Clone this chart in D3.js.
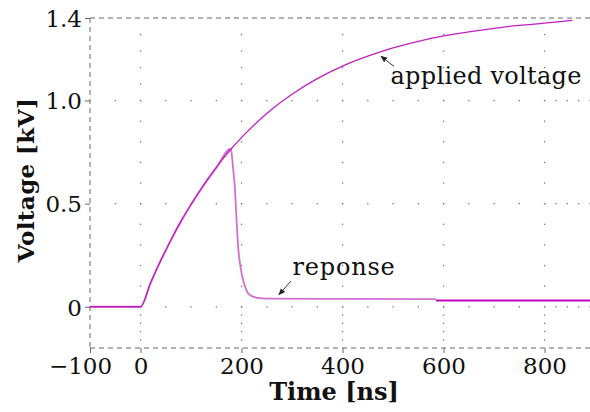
<!DOCTYPE html>
<html>
<head>
<meta charset="utf-8">
<script src="https://cdn.jsdelivr.net/npm/d3@7"></script>
<style>
  body { margin: 0; background: #fff; }
  text { font-family: "DejaVu Serif", serif; fill: #111; }
</style>
</head>
<body>
<div class="chart"></div>
<script>
// values (time in ns, voltage in kV)
var appliedTime = [-100, 0, 20, 40, 60, 80, 100, 125, 150, 178, 200, 250, 300, 350, 400, 450, 500, 550, 600, 650, 700, 750, 800, 855];
var appliedVolt = [0, 0, 0.117, 0.225, 0.324, 0.415, 0.497, 0.591, 0.676, 0.761, 0.82, 0.937, 1.03, 1.106, 1.167, 1.215, 1.255, 1.287, 1.313, 1.333, 1.35, 1.364, 1.375, 1.388];

var responseTime = [-100, 0, 20, 40, 60, 80, 100, 125, 150, 178.8, 183, 186.7, 190, 193.3, 197, 200, 206, 212.5, 222, 236, 260, 400, 585];
var responseVolt = [0, 0, 0.115, 0.222, 0.321, 0.412, 0.494, 0.588, 0.673, 0.766, 0.68, 0.58, 0.43, 0.29, 0.21, 0.164, 0.105, 0.067, 0.05, 0.042, 0.039, 0.038, 0.037];

var responseLateTime = [585, 890];
var responseLateVolt = [0.03, 0.03];

var xTicks = [-100, 0, 200, 400, 600, 800];
var yTicks = [0, 0.5, 1.0, 1.4];
var yTickLabels = ["0", "0.5", "1.0", "1.4"];

var svgWidth = 590, svgHeight = 412;
var margin = { top: 18, right: 0, bottom: 64, left: 90 };
var width = svgWidth - margin.left - margin.right;
var height = svgHeight - margin.top - margin.bottom;

var svg = d3.select(".chart")
  .append("svg")
  .attr("width", svgWidth)
  .attr("height", svgHeight);

var chartGroup = svg.append("g")
  .attr("transform", `translate(${margin.left}, ${margin.top})`);

var x = d3.scaleLinear().domain([-100, 890]).range([0, width]);
var y = d3.scaleLinear().domain([-0.2, 1.4]).range([height, 0]);

// dotted grid: dots split every gap between ticks into equal parts
var xStops = [-100, 0, 200, 400, 600, 800, 890];
var xParts = [2, 4, 4, 4, 4, 4];
var yStops = [-0.2, 0, 0.5, 1.0, 1.4];
var yParts = [5, 5, 5, 5];

function subdivide(stops, parts) {
  var out = [];
  for (var i = 0; i < parts.length; i++) {
    for (var k = 0; k < parts[i]; k++) {
      out.push(stops[i] + (stops[i + 1] - stops[i]) * k / parts[i]);
    }
  }
  out.push(stops[stops.length - 1]);
  return out;
}
var xDots = subdivide(xStops, xParts);
var yDots = subdivide(yStops, yParts);

var dots = [];
[0, 0.5, 1.0].forEach(function (v) {
  xDots.forEach(function (t) { if (t > -100) dots.push([t, v]); });
});
[0, 200, 400, 600, 800].forEach(function (t) {
  yDots.forEach(function (v) { if (v > -0.2 && v < 1.4) dots.push([t, v]); });
});

chartGroup.append("g").selectAll("rect")
  .data(dots)
  .enter()
  .append("rect")
  .attr("x", d => x(d[0]) - 0.6)
  .attr("y", d => y(d[1]) - 0.6)
  .attr("width", 1.3)
  .attr("height", 1.3)
  .attr("fill", "#777");

// dashed frame (left, top, bottom)
var frame = chartGroup.append("g")
  .attr("stroke", "#666")
  .attr("stroke-width", 1)
  .attr("stroke-dasharray", "5,4")
  .attr("fill", "none");
frame.append("line").attr("x1", 0).attr("x2", width).attr("y1", y(1.4)).attr("y2", y(1.4));
frame.append("line").attr("x1", 0).attr("x2", width).attr("y1", y(-0.2)).attr("y2", y(-0.2));
frame.append("line").attr("x1", 0).attr("x2", 0).attr("y1", y(1.4)).attr("y2", y(-0.2));

// axes
var bottomAxis = d3.axisBottom(x)
  .tickValues(xTicks)
  .tickSize(5)
  .tickPadding(5)
  .tickFormat(d => d < 0 ? "\u2212" + Math.abs(d) : d);
var leftAxis = d3.axisLeft(y)
  .tickValues(yTicks)
  .tickSize(5)
  .tickPadding(3)
  .tickFormat((d, i) => yTickLabels[i]);

var xAxisG = chartGroup.append("g")
  .attr("transform", `translate(0, ${height})`)
  .call(bottomAxis);
var yAxisG = chartGroup.append("g")
  .call(leftAxis);

[xAxisG, yAxisG].forEach(function (g) {
  g.select(".domain").remove();
  g.selectAll(".tick line").attr("stroke", "#666");
  g.selectAll(".tick text")
    .attr("font-family", "DejaVu Serif")
    .attr("font-size", 23)
    .attr("fill", "#111");
});
// minus sign sits left of the centred digits
xAxisG.selectAll(".tick text").attr("dx", d => d < 0 ? -10 : 0);
yAxisG.selectAll(".tick text").attr("dy", "0.36em");

// curves
var line = d3.line()
  .x(d => x(d[0]))
  .y(d => y(d[1]));

var applied = appliedTime.map((t, i) => [t, appliedVolt[i]]);
var response = responseTime.map((t, i) => [t, responseVolt[i]]);
var responseLate = responseLateTime.map((t, i) => [t, responseLateVolt[i]]);

chartGroup.append("path")
  .datum(response)
  .attr("d", line.curve(d3.curveMonotoneX))
  .attr("fill", "none")
  .attr("stroke", "#d070d0")
  .attr("stroke-width", 1.8);

chartGroup.append("path")
  .datum(applied)
  .attr("d", line.curve(d3.curveMonotoneX))
  .attr("fill", "none")
  .attr("stroke", "#c020c0")
  .attr("stroke-width", 1.3);

chartGroup.append("path")
  .datum(responseLate)
  .attr("d", line.curve(d3.curveLinear))
  .attr("fill", "none")
  .attr("stroke", "#c000c0")
  .attr("stroke-width", 2);

// annotations with arrows
svg.append("defs").append("marker")
  .attr("id", "arrow")
  .attr("viewBox", "0 0 10 10")
  .attr("refX", 9)
  .attr("refY", 5)
  .attr("markerWidth", 7)
  .attr("markerHeight", 7)
  .attr("orient", "auto")
  .append("path")
  .attr("d", "M0,1 L10,5 L0,9 Z")
  .attr("fill", "#222");

chartGroup.append("line")
  .attr("x1", x(502)).attr("y1", y(1.165))
  .attr("x2", x(476)).attr("y2", y(1.215))
  .attr("stroke", "#333")
  .attr("stroke-width", 1)
  .attr("marker-end", "url(#arrow)");
chartGroup.append("text")
  .attr("x", x(495))
  .attr("y", y(1.08))
  .attr("font-size", 24)
  .attr("letter-spacing", 0.3)
  .text("applied voltage");

chartGroup.append("line")
  .attr("x1", x(298)).attr("y1", y(0.125))
  .attr("x2", x(274)).attr("y2", y(0.058))
  .attr("stroke", "#333")
  .attr("stroke-width", 1)
  .attr("marker-end", "url(#arrow)");
chartGroup.append("text")
  .attr("x", x(301))
  .attr("y", y(0.155))
  .attr("font-size", 24)
  .attr("letter-spacing", 0.8)
  .text("reponse");

// axis labels
svg.append("text")
  .attr("transform", `translate(34, ${margin.top + height / 2 - 3}) rotate(-90)`)
  .attr("text-anchor", "middle")
  .attr("font-size", 23)
  .attr("font-weight", "bold")
  .attr("letter-spacing", 0.4)
  .text("Voltage [kV]");

svg.append("text")
  .attr("x", 334)
  .attr("y", 400)
  .attr("text-anchor", "middle")
  .attr("font-size", 24)
  .attr("font-weight", "bold")
  .text("Time [ns]");
</script>
</body>
</html>
